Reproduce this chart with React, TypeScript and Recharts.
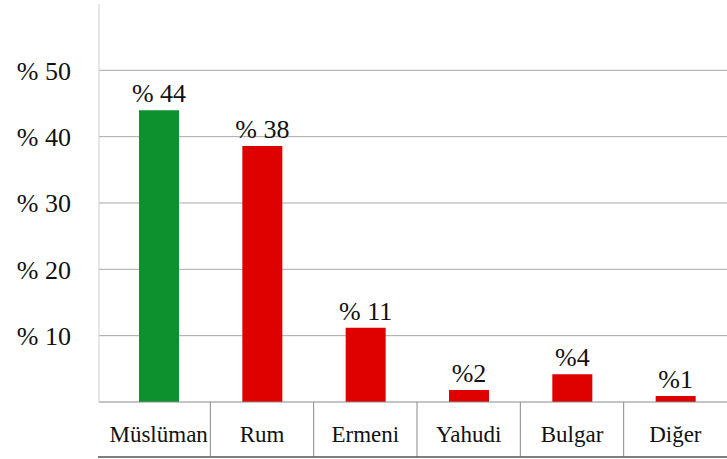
import React from "react";
import { BarChart, Bar, XAxis, YAxis, CartesianGrid, Cell, LabelList } from "recharts";

// ---------------------------------------------------------------------------
// Data
// ---------------------------------------------------------------------------

const categories = ["Müslüman", "Rum", "Ermeni", "Yahudi", "Bulgar", "Diğer"];
const shares = [44, 38.6, 11.2, 1.8, 4.2, 0.9];
const valueLabels = ["% 44", "% 38", "% 11", "%2", "%4", "%1"];
const barColors = ["#0b922f", "#df0000", "#df0000", "#df0000", "#df0000", "#df0000"];
const yTicks = [10, 20, 30, 40, 50];

const data = categories.map((name, i) => ({
  name,
  value: shares[i],
  label: valueLabels[i],
}));

const W = 727;
const H = 459;
const FONT = '"Liberation Serif", "DejaVu Serif", serif';
const PLOT_LEFT = 99;
const PAD_LEFT = 8;
const BAND = (W - PLOT_LEFT - PAD_LEFT) / categories.length;
const TABLE_H = 55;

// Category tick drawn as a cell of the table under the plot
function TableTick({ x, y, payload, index }: any) {
  const last = index === categories.length - 1;
  const left = index === 0 ? PLOT_LEFT - 1 : x - BAND / 2;
  const right = last ? W : x + BAND / 2;
  return (
    <g>
      <text
        x={x}
        y={y + 40}
        textAnchor="middle"
        style={{ fontFamily: FONT, fontSize: 23 }}
        fill="#111"
      >
        {payload.value}
      </text>
      {!last && (
        <line x1={x + BAND / 2} x2={x + BAND / 2} y1={y} y2={y + TABLE_H} stroke="#8a8a8a" />
      )}
      <line x1={left} x2={right} y1={y + TABLE_H} y2={y + TABLE_H} stroke="#555" strokeWidth={1.5} />
    </g>
  );
}

export default function App() {
  return (
    <div style={{ position: "absolute", left: 0, top: 0, width: W, height: H, background: "#fff", fontFamily: FONT }}>
      <BarChart
        width={W}
        height={H}
        data={data}
        margin={{ top: 4, right: 0, bottom: 0, left: 0 }}
        barSize={40}
        style={{ fontFamily: FONT }}
      >
        <CartesianGrid vertical={false} stroke="#a8a8a8" horizontalValues={yTicks} />
        <XAxis
          dataKey="name"
          height={57}
          padding={{ left: PAD_LEFT, right: 0 }}
          axisLine={{ stroke: "#8a8a8a" }}
          tickLine={false}
          tickSize={0}
          tickMargin={0}
          interval={0}
          tick={<TableTick />}
        />
        <YAxis
          width={PLOT_LEFT}
          domain={[0, 60]}
          ticks={yTicks}
          axisLine={{ stroke: "#cfcfcf" }}
          tickLine={false}
          tickMargin={22}
          tick={{ fontSize: 26, fill: "#111", style: { fontFamily: FONT } }}
          tickFormatter={(v: number) => `% ${v}`}
        />
        <Bar dataKey="value" isAnimationActive={false}>
          {data.map((d, i) => (
            <Cell key={d.name} fill={barColors[i]} />
          ))}
          <LabelList
            dataKey="label"
            position="top"
            offset={8}
            fontSize={26}
            fill="#111"
            style={{ fontFamily: FONT }}
          />
        </Bar>
      </BarChart>
    </div>
  );
}
